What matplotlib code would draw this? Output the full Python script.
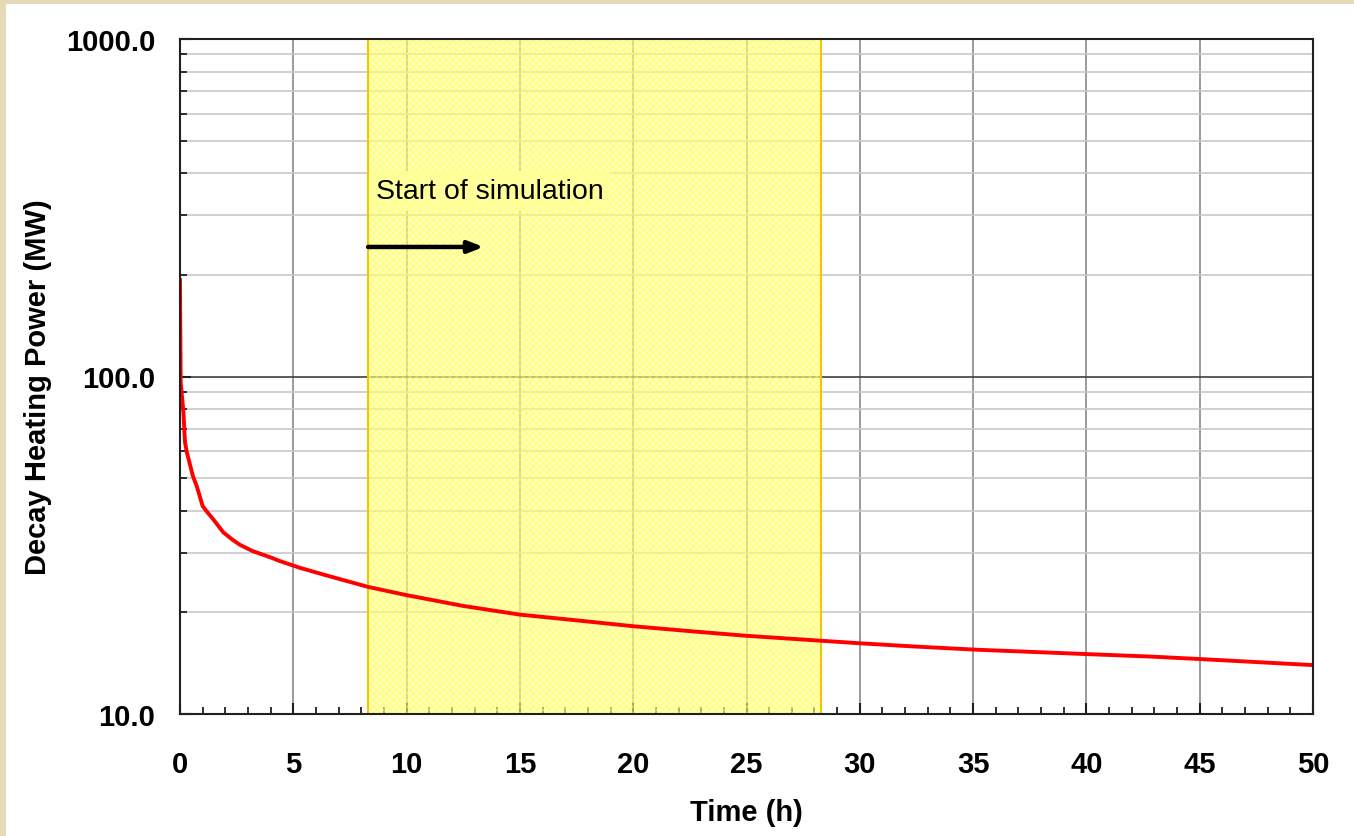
import numpy as np
import matplotlib.pyplot as plt
from matplotlib.patches import Rectangle
from matplotlib.ticker import FixedLocator, MultipleLocator, NullFormatter

# decay heat curve
time_h = [0, 0.03, 0.15, 0.22, 0.3, 0.57, 0.74, 1.0, 1.25, 1.46, 1.9, 2.3, 2.65,
          3.2, 4.0, 4.4, 5.3, 6.5, 8.3, 10, 12.5, 15, 17.65, 20, 22.5, 25,
          28.2, 30, 32.4, 35.2, 40, 42.8, 45, 50]
power_mw = [193, 96, 78.5, 64, 59.7, 50.7, 47.3, 41.3, 39.3, 37.8, 34.6, 32.9,
            31.7, 30.4, 29.1, 28.4, 27.1, 25.7, 23.8, 22.5, 20.9, 19.7, 18.9,
            18.2, 17.6, 17.05, 16.5, 16.2, 15.85, 15.5, 15.05, 14.8, 14.55, 13.96]

sim_window = (8.3, 28.3)
arrow_x = (8.3, 13.4)
arrow_y = 242
x_ticks = [0, 5, 10, 15, 20, 25, 30, 35, 40, 45, 50]
y_ticks = [10, 100, 1000]
y_labels = ["10.0", "100.0", "1000.0"]

plt.rcParams['font.family'] = ['Liberation Sans', 'DejaVu Sans']
plt.rcParams['hatch.linewidth'] = 0.6

fig = plt.figure(figsize=(13.54, 8.37), dpi=100, facecolor='#e4dab8')
# white panel inside the beige frame
fig.patches.append(Rectangle((6 / 1354, 0), 1, 1 - 5 / 837, transform=fig.transFigure,
                             facecolor='white', edgecolor='none', zorder=-5))

ax = fig.add_axes([180 / 1354, 1 - 715 / 837, (1313 - 180) / 1354, (715 - 40) / 837])
ax.set_facecolor('white')
ax.set_yscale('log')
ax.set_xlim(0, 50)
ax.set_ylim(10, 1000)

# grid
ax.yaxis.set_minor_locator(FixedLocator([m * d for d in (10, 100) for m in range(2, 10)]))
ax.yaxis.set_minor_formatter(NullFormatter())
ax.set_yticks(y_ticks)
ax.set_yticklabels(y_labels)
ax.set_xticks(x_ticks)
ax.xaxis.set_minor_locator(MultipleLocator(1))
ax.grid(True, which='minor', axis='y', color='#c8c8c8', lw=1.2, zorder=1)
ax.grid(True, which='major', axis='y', color='#404040', lw=1.2, zorder=1)
ax.grid(True, which='major', axis='x', color='#8a8a8a', lw=1.2, zorder=1)

# simulation window
ax.axvspan(*sim_window, facecolor='#ffff90', edgecolor='#ffff30', hatch='xxxxx',
           lw=0, alpha=0.6, zorder=2)
for xv in sim_window:
    ax.axvline(xv, color='#f0c800', lw=1.5, zorder=2)

ax.plot(time_h, power_mw, color='red', lw=2.8, zorder=4, solid_joinstyle='round')

ax.text(8.65, 355, "Start of simulation", fontsize=20.5, ha='left', va='center',
        bbox=dict(boxstyle='square,pad=0.25', facecolor='#ffff99', edgecolor='none'),
        zorder=5)
ax.annotate("", xy=(arrow_x[1], arrow_y), xytext=(arrow_x[0], arrow_y),
            arrowprops=dict(arrowstyle='-|>,head_length=0.9,head_width=0.35',
                            color='black', lw=3.2, shrinkA=0, shrinkB=0), zorder=5)

for s in ax.spines.values():
    s.set_linewidth(1.5)
    s.set_color('#202020')
    s.set_zorder(6)

ax.tick_params(axis='both', which='both', direction='in', color='#202020')
ax.tick_params(axis='x', which='major', length=8, width=1.5, pad=26)
ax.tick_params(axis='x', which='minor', length=5, width=1.3)
ax.tick_params(axis='y', which='major', length=8, width=1.5, pad=18)
ax.tick_params(axis='y', which='minor', length=5, width=1.3)
for lab in ax.get_xticklabels() + ax.get_yticklabels():
    lab.set_fontsize(21)
    lab.set_fontweight('bold')

ax.set_xlabel("Time (h)", fontsize=21, fontweight='bold', labelpad=14)
ax.set_ylabel("Decay Heating Power (MW)", fontsize=21, fontweight='bold')
ax.yaxis.set_label_coords(-0.113, 0.486)

fig.savefig("out.png", dpi=100, facecolor=fig.get_facecolor())
